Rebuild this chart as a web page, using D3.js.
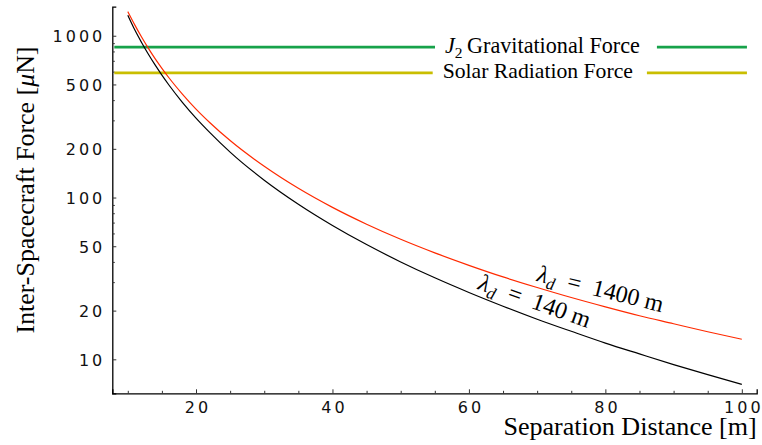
<!DOCTYPE html>
<html>
<head>
<meta charset="utf-8">
<script src="https://cdn.jsdelivr.net/npm/d3@7"></script>
<style>
  html, body { margin: 0; padding: 0; background: #fff; }
  svg { display: block; }
</style>
</head>
<body>
<svg id="chart" width="762" height="445"></svg>
<script>
// ---- data ----
const distance = [10, 11, 12, 13, 14, 15, 16, 18, 20, 22, 25, 30, 35, 40, 45, 50, 55, 60, 65, 70, 75, 80, 85, 90, 95, 100];
const force140 = [1340, 1092, 912, 771, 660, 571, 498, 388, 310, 253, 191, 128, 90.9, 67.2, 51.2, 40.0, 31.9, 25.9, 21.3, 17.7, 14.9, 12.6, 10.8, 9.28, 8.04, 7.00];
const force1400 = [1410, 1172, 985, 838, 722, 629, 552, 436, 352, 291, 225, 156, 114, 86.9, 68.4, 55.2, 45.5, 38.1, 32.3, 27.8, 24.1, 21.1, 18.6, 16.6, 14.8, 13.3];
const debyeLengths = ["1400", "140"];

const refNames = ["Gravitational Force", "Solar Radiation Force"];
const refValues = [850, 590];

const xMajorTicks = [20, 40, 60, 80, 100];
const xMinorTicks = [10, 15, 25, 30, 35, 45, 50, 55, 65, 70, 75, 85, 90, 95];
const yMajorTicks = [10, 20, 50, 100, 200, 500, 1000];
const yMinorTicks = [30, 40, 60, 70, 80, 90, 300, 400, 600, 700, 800, 900];

const xTitle = "Separation Distance [m]";
const yTitle = "Inter-Spacecraft Force [";

(function () {
// ---- layout ----
const svg = d3.select("#chart");
const mLeft = 112.3, mRight = 756.7, mTop = 6.7, mBottom = 393.3;
const x = d3.scaleLinear().domain([7.73, 102.18]).range([mLeft, mRight]);
const y = d3.scaleLog().domain([6.166, 1512]).range([mBottom, mTop]);

const serif = "'Liberation Serif', 'Times New Roman', serif";
const tickFont = "'DejaVu Sans', sans-serif";

// ---- axes ----
const gx = svg.append("g").attr("transform", `translate(0,${mBottom})`);
gx.call(d3.axisBottom(x).tickValues(xMajorTicks).tickSize(-4).tickPadding(8.5).tickFormat(d3.format("d")));
const gxm = svg.append("g").attr("transform", `translate(0,${mBottom})`);
gxm.call(d3.axisBottom(x).tickValues(xMinorTicks).tickSize(-2.5).tickFormat(""));
gxm.select(".domain").remove();

const gy = svg.append("g").attr("transform", `translate(${mLeft},0)`);
gy.call(d3.axisLeft(y).tickValues(yMajorTicks).tickSize(-4).tickPadding(10).tickFormat(d3.format("d")));
const gym = svg.append("g").attr("transform", `translate(${mLeft},0)`);
gym.call(d3.axisLeft(y).tickValues(yMinorTicks).tickSize(-2.5).tickFormat(""));
gym.select(".domain").remove();

svg.selectAll(".domain").attr("stroke", "#000").attr("stroke-width", 1.3);
svg.selectAll(".tick line").attr("stroke", "#333").attr("stroke-width", 1);
[gx, gy].forEach(g => g.selectAll("text")
  .attr("font-family", tickFont).attr("font-size", 16)
  .attr("letter-spacing", "3px").attr("fill", "#111"));
gx.selectAll("text").attr("dx", "1.5");
gy.selectAll("text").attr("dy", "0.38em").attr("dx", "3");

// ---- reference horizontal lines with inline labels ----
const refColors = ["#17a24a", "#c9be00"];
const refTextStart = [445, 442.7];
const refRightGap = [17, 14];
refValues.forEach((v, i) => {
  const yy = y(v);
  const t = svg.append("text")
    .attr("font-family", serif).attr("font-size", 20).attr("fill", "#000")
    .attr("x", refTextStart[i]).attr("y", yy + 5.5);
  if (i === 0) {
    t.append("tspan").attr("font-style", "italic").text("J");
    t.append("tspan").attr("font-size", 14).attr("dy", 5).text("2");
    t.append("tspan").attr("dy", -5).text("\u2009" + refNames[i]);
  } else {
    t.text(refNames[i]);
  }
  const target = i === 0 ? 195 : 190.3;
  const w0 = t.node().getComputedTextLength();
  const fs = 20 * target / w0;
  t.attr("font-size", fs);
  if (i === 0) t.select("tspan:nth-child(2)").attr("font-size", fs * 0.7);
  const w = t.node().getComputedTextLength();
  const segs = [[x.range()[0] + 2, refTextStart[i] - 10], [refTextStart[i] + w + refRightGap[i], x(100.75)]];
  segs.forEach(s => svg.append("line")
    .attr("x1", s[0]).attr("x2", s[1]).attr("y1", yy).attr("y2", yy)
    .attr("stroke", refColors[i]).attr("stroke-width", 2.8));
});

// ---- curves ----
const line = d3.line().curve(d3.curveMonotoneX).x(d => x(d[0])).y(d => y(d[1]));
svg.append("path").datum(distance.map((d, i) => [d, force1400[i]]))
  .attr("d", line).attr("fill", "none").attr("stroke", "#ff2a00").attr("stroke-width", 1.2);
svg.append("path").datum(distance.map((d, i) => [d, force140[i]]))
  .attr("d", line).attr("fill", "none").attr("stroke", "#000").attr("stroke-width", 1.2);

// ---- curve labels ----
const labelPos = [[536, 281, 14], [477, 289, 19.5]];
debyeLengths.forEach((lam, i) => {
  const [lx, ly, ang] = labelPos[i];
  const t = svg.append("text")
    .attr("transform", `translate(${lx},${ly}) rotate(${ang})`)
    .attr("font-family", serif).attr("font-size", 24).attr("fill", "#000");
  t.append("tspan").attr("font-style", "italic").text("\u03bb");
  t.append("tspan").attr("font-style", "italic").attr("font-size", 17).attr("dy", 5).text("d");
  t.append("tspan").attr("dy", -5).text("\u2002=\u2002" + lam + " m");
});

// ---- axis titles ----
const xt = svg.append("text").attr("font-family", serif).attr("font-size", 22)
  .attr("text-anchor", "end").attr("x", 756.7).attr("y", 435).attr("fill", "#000").text(xTitle);
const xw = xt.node().getComputedTextLength();
xt.attr("font-size", 22 * 253.4 / xw);

const yt = svg.append("text").attr("font-family", serif).attr("font-size", 22)
  .attr("text-anchor", "middle").attr("fill", "#000")
  .attr("transform", "translate(33.5,190) rotate(-90)");
yt.append("tspan").text(yTitle);
yt.append("tspan").attr("font-style", "italic").text("\u03bc");
yt.append("tspan").text("N]");
const yw = yt.node().getComputedTextLength();
yt.attr("font-size", 22 * 287 / yw);
})();
</script>
</body>
</html>
